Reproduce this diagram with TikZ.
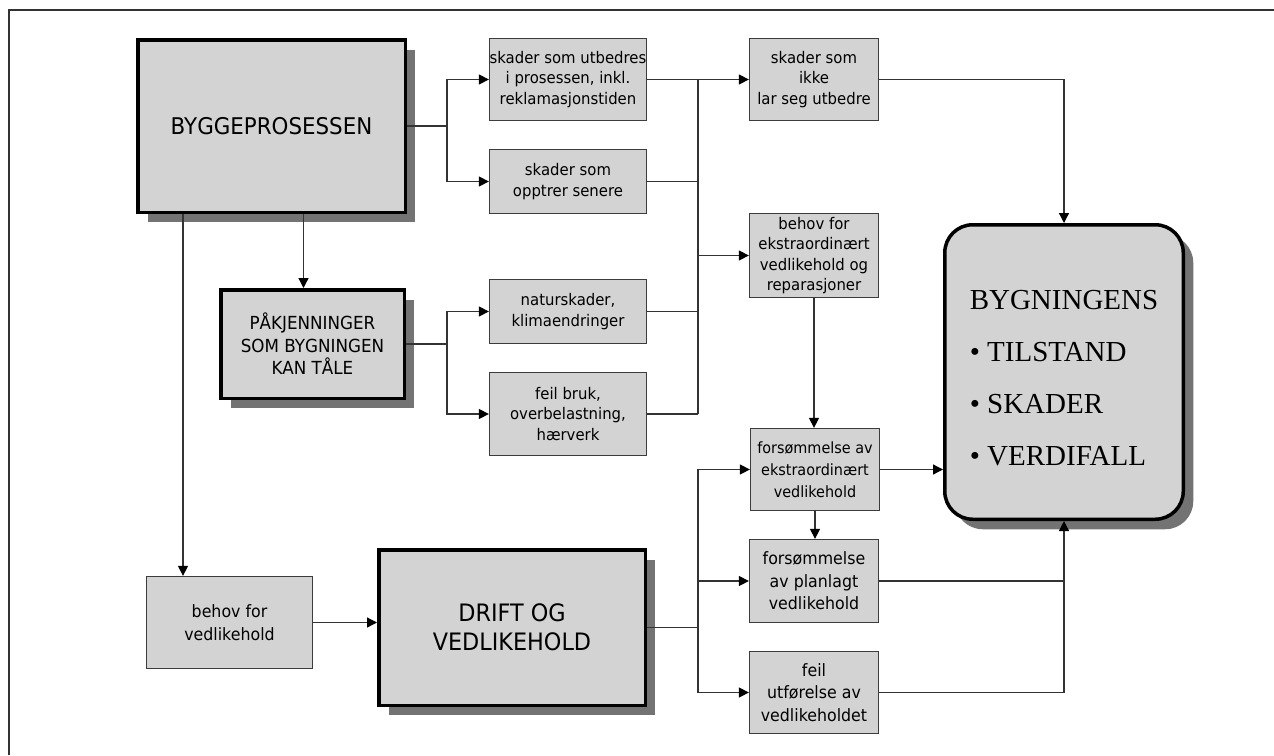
\documentclass[tikz,border=0pt]{standalone}
\usepackage{fontspec}
\setmainfont{DejaVu Sans}[FakeStretch=0.93]
\newfontfamily\timesfam{Liberation Serif}
\usetikzlibrary{arrows.meta,shadows}
\definecolor{boxfill}{RGB}{211,211,211}
\definecolor{shade}{RGB}{115,115,115}
\definecolor{wire}{RGB}{51,51,51}
\definecolor{rim}{RGB}{60,60,60}

\begin{document}
\begin{tikzpicture}[x=1pt,y=-1pt,
  box/.style={draw=rim, line width=1.3pt, fill=boxfill, inner sep=0pt,
    align=center, font=\fontsize{16}{20.5}\selectfont},
  bigbox/.style={draw=black, line width=3.5pt, fill=boxfill, inner sep=0pt,
    align=center,
    drop shadow={shadow xshift=10pt,shadow yshift=-10pt,fill=shade,opacity=1}},
  link/.style={draw=wire, line width=1.3pt},
  arr/.style={link, -{Triangle[length=10pt,width=10pt,black]}}
]
\useasboundingbox (0,0) rectangle (1274,755);

% outer frame (only top and left edges fall inside the page)
\draw[draw=wire, line width=1.6pt] (9,755) -- (9,10) -- (1274,10);

% main process boxes
\node[bigbox, minimum width=267.5pt, minimum height=172.5pt,
      font=\fontsize{23}{28}\selectfont] (bygge) at (271.5,126) {BYGGEPROSESSEN};
\node[bigbox, minimum width=183.5pt, minimum height=108.5pt,
      font=\fontsize{18}{22.5}\selectfont] (pak) at (312.5,344)
      {PÅKJENNINGER\\SOM BYGNINGEN\\KAN TÅLE};
\node[bigbox, minimum width=266.5pt, minimum height=155.5pt,
      font=\fontsize{24}{29}\selectfont] (drift) at (512,627.5)
      {DRIFT OG\\VEDLIKEHOLD};
\node[bigbox, rounded corners=28pt, minimum width=238.5pt, minimum height=294.5pt,
      align=left, font=\timesfam\fontsize{29}{52}\selectfont] (byg) at (1064,372)
      {\rule{0pt}{32pt}BYGNINGENS\\• TILSTAND\\• SKADER\\• VERDIFALL};

% damage boxes
\node[box, minimum width=157pt, minimum height=82pt] (utbedres) at (568,79.5)
      {skader som utbedres\\i prosessen, inkl.\\reklamasjonstiden};
\node[box, minimum width=157pt, minimum height=64pt] (opptrer) at (568,181.5)
      {skader som\\opptrer senere};
\node[box, minimum width=129pt, minimum height=82pt] (ikke) at (814,79.5)
      {skader som\\ikke\\lar seg utbedre};
\node[box, minimum width=129pt, minimum height=84pt] (behovx) at (814,255.5)
      {behov for\\ekstraordinært\\vedlikehold og\\reparasjoner};
\node[box, minimum width=157pt, minimum height=64pt] (natur) at (568,311.5)
      {naturskader,\\klimaendringer};
\node[box, minimum width=157pt, minimum height=83pt] (feilbruk) at (568,414)
      {feil bruk,\\overbelastning,\\hærverk};

% maintenance boxes
\node[box, minimum width=129pt, minimum height=82pt,
      font=\fontsize{15.5}{22}\selectfont] (forsx) at (815,469.5)
      {forsømmelse av\\ekstraordinært\\vedlikehold};
\node[box, minimum width=129pt, minimum height=83pt,
      font=\fontsize{17}{22.5}\selectfont] (planlagt) at (814,581)
      {forsømmelse\\av planlagt\\vedlikehold};
\node[box, minimum width=129pt, minimum height=82pt,
      font=\fontsize{17}{22.5}\selectfont] (feilutf) at (814,692.5)
      {feil\\utførelse av\\vedlikeholdet};
\node[box, minimum width=166pt, minimum height=92pt,
      font=\fontsize{17}{23}\selectfont] (behovv) at (229.5,622.5)
      {behov for\\vedlikehold};

% junction points
\coordinate (ja) at (447,126);
\coordinate (jp) at (447,344);
\coordinate (jt) at (698,79.5);
\coordinate (jb) at (698,414);
\coordinate (jd) at (698,627.5);
\coordinate (pdrop) at ([xshift=32pt]bygge.south);
\coordinate (vdrop) at ([xshift=-88.5pt]bygge.south);

% from the building process
\draw[link] (bygge.east) -- (ja);
\draw[arr] (ja) |- (utbedres.west);
\draw[arr] (ja) |- (opptrer.west);
\draw[arr] (pdrop) -- (pdrop |- pak.north);
\draw[arr] (vdrop) -- (vdrop |- behovv.north);

% loads the building can bear
\draw[link] (pak.east) -- (jp);
\draw[arr] (jp) |- (natur.west);
\draw[arr] (jp) |- (feilbruk.west);

% collecting bus of damages
\draw[arr] (utbedres.east) -- (ikke.west);
\draw[link] (jt) -- (jb);
\draw[link] (opptrer.east) -- (opptrer.east -| jt);
\draw[link] (natur.east) -- (natur.east -| jt);
\draw[link] (feilbruk.east) -- (jb);
\draw[arr] (behovx.west -| jt) -- (behovx.west);

% into the building state
\draw[arr] (ikke.east) -| (byg.north);
\draw[arr] (behovx.south) -- (behovx.south |- forsx.north);
\draw[arr] (forsx.east) -- (forsx.east -| byg.west);
\draw[arr] (forsx.south) -- (forsx.south |- planlagt.north);
\draw[link] (planlagt.east) -- (planlagt.east -| byg.south);
\draw[arr] (feilutf.east) -| (byg.south);

% operation and maintenance
\draw[arr] (behovv.east) -- (behovv.east -| drift.west);
\draw[link] (drift.east) -- (jd);
\draw[arr] (jd) |- (forsx.west);
\draw[arr] (jd) |- (planlagt.west);
\draw[arr] (jd) |- (feilutf.west);
\end{tikzpicture}
\end{document}
